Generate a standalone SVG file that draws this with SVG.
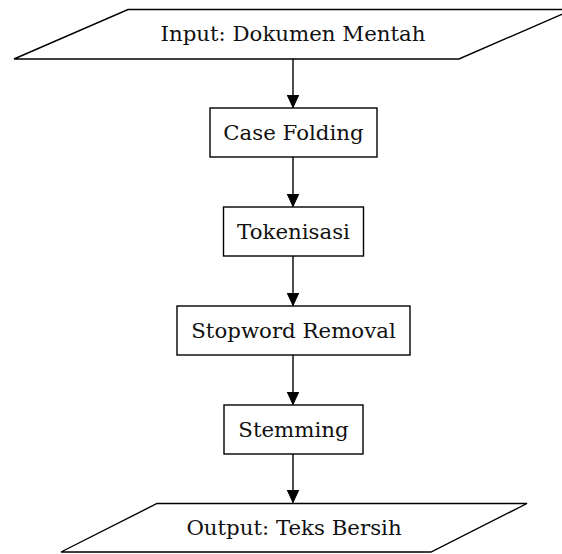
<svg xmlns="http://www.w3.org/2000/svg" width="562" height="554" viewBox="0 0 562 554">
  <style>
    .shape { fill: #ffffff; stroke: #000000; stroke-width: 1.4; }
    .label { font-family: "DejaVu Serif", "Liberation Serif", serif; font-size: 21.3px; fill: #111111; text-anchor: middle; }
    .edge { stroke: #000000; stroke-width: 1.4; fill: none; }
  </style>
  <defs>
    <marker id="arrow" markerUnits="userSpaceOnUse" markerWidth="14" markerHeight="16" refX="13" refY="6" orient="auto">
      <path d="M0,0 L13,6 L0,12 Z" fill="#000000" stroke="#000000" stroke-width="1"/>
    </marker>
  </defs>
  <rect width="562" height="554" fill="#ffffff"/>

  <g id="connectors">
    <line class="edge" x1="293" y1="59" x2="293" y2="107.5" marker-end="url(#arrow)"/>
    <line class="edge" x1="293" y1="157" x2="293" y2="206.5" marker-end="url(#arrow)"/>
    <line class="edge" x1="293" y1="256" x2="293" y2="305.5" marker-end="url(#arrow)"/>
    <line class="edge" x1="293" y1="355" x2="293" y2="404.5" marker-end="url(#arrow)"/>
    <line class="edge" x1="293" y1="454" x2="293" y2="502.5" marker-end="url(#arrow)"/>
  </g>

  <g id="input">
    <polygon class="shape" points="128,9.5 573,9.5 459,59 14,59"/>
    <text class="label" x="293" y="41">Input: Dokumen Mentah</text>
  </g>

  <g id="case-folding">
    <rect class="shape" x="210" y="108" width="167" height="49"/>
    <text class="label" x="293.5" y="139.5">Case Folding</text>
  </g>

  <g id="tokenisasi">
    <rect class="shape" x="223.5" y="207" width="140" height="49"/>
    <text class="label" x="293.5" y="238.5">Tokenisasi</text>
  </g>

  <g id="stopword-removal">
    <rect class="shape" x="177" y="306" width="233" height="49"/>
    <text class="label" x="293.5" y="337.5">Stopword Removal</text>
  </g>

  <g id="stemming">
    <rect class="shape" x="224" y="405" width="139" height="49"/>
    <text class="label" x="293.5" y="436.5">Stemming</text>
  </g>

  <g id="output">
    <polygon class="shape" points="157,503.5 527,503.5 431,552 61,552"/>
    <text class="label" x="294" y="535">Output: Teks Bersih</text>
  </g>
</svg>
